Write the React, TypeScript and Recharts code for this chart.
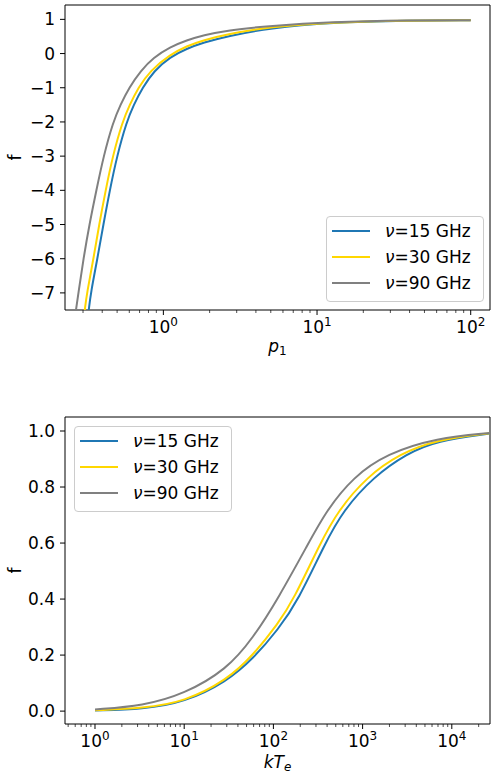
import React from "react";
import { LineChart, Line, XAxis, YAxis, ReferenceArea, Legend } from "recharts";

// top panel: f vs p1 (log x)
const topP15 = [0.327, 0.337, 0.372, 0.407, 0.448, 0.499, 0.576, 0.641, 0.731, 0.871, 1.105, 1.42, 1.82, 2.586, 4.94, 12.15, 40.3, 100];
const topF15 = [-7.5, -7, -6, -5, -4, -3, -2, -1.5, -1, -0.5, -0.1, 0.146, 0.32, 0.506, 0.75, 0.91, 0.968, 0.973];
const topP30 = [0.308, 0.318, 0.351, 0.382, 0.421, 0.468, 0.541, 0.603, 0.686, 0.82, 1.105, 1.42, 1.82, 2.586, 4.94, 12.15, 40.3, 100];
const topF30 = [-7.5, -7, -6, -5, -4, -3, -2, -1.5, -1, -0.5, -0.03, 0.22, 0.39, 0.565, 0.78, 0.915, 0.97, 0.974];
const topP90 = [0.27, 0.28, 0.302, 0.33, 0.3665, 0.408, 0.471, 0.525, 0.598, 0.713, 0.861, 1.105, 1.42, 1.82, 2.586, 4.94, 12.15, 40.3, 100];
const topF90 = [-7.5, -7, -6, -5, -4, -3, -2, -1.5, -1, -0.5, -0.12, 0.19, 0.39, 0.535, 0.68, 0.81, 0.925, 0.972, 0.975];

// bottom panel: f vs kTe (log x)
const botT15 = [1, 3.48, 10, 29.9, 59.5, 113, 190, 378, 608, 1321, 3120, 6760, 26800];
const botF15 = [0.002, 0.007, 0.031, 0.105, 0.188, 0.291, 0.396, 0.598, 0.717, 0.836, 0.919, 0.965, 0.991];
const botT30 = [1, 3.48, 10, 29.9, 59.5, 113, 167, 333, 534, 1112, 2626, 6760, 26800];
const botF30 = [0.003, 0.01, 0.033, 0.11, 0.2, 0.313, 0.396, 0.598, 0.717, 0.836, 0.919, 0.969, 0.992];
const botT90 = [1, 3.48, 10, 29.9, 59.5, 113, 246, 395, 787, 1862, 6760, 26800];
const botF90 = [0.006, 0.019, 0.061, 0.148, 0.262, 0.402, 0.598, 0.717, 0.836, 0.919, 0.975, 0.993];

const freqs = ["15", "30", "90"];
const colors = ["#1f77b4", "#ffd700", "#808080"];

const topXTicks = [0.3, 0.4, 0.5, 0.6, 0.7, 0.8, 0.9, 1, 2, 3, 4, 5, 6, 7, 8, 9, 10, 20, 30, 40, 50, 60, 70, 80, 90, 100];
const topYTicks = [-7, -6, -5, -4, -3, -2, -1, 0, 1];
const botXTicks = [0.5, 0.6, 0.7, 0.8, 0.9, 1, 2, 3, 4, 5, 6, 7, 8, 9, 10, 20, 30, 40, 50, 60, 70, 80, 90, 100, 200, 300, 400, 500, 600, 700, 800, 900, 1000, 2000, 3000, 4000, 5000, 6000, 7000, 8000, 9000, 10000, 20000];
const botYTicks = [0, 0.2, 0.4, 0.6, 0.8, 1.0];

const topXDomain: [number, number] = [0.229, 133.5];
const topYDomain: [number, number] = [-7.5, 1.42];
const botXDomain: [number, number] = [0.461, 26800];
const botYDomain: [number, number] = [-0.046, 1.05];

const zip = (xs: number[], ys: number[]) => xs.map((x, i) => ({ x, f: ys[i] }));

const topSeries = [zip(topP15, topF15), zip(topP30, topF30), zip(topP90, topF90)];
const botSeries = [zip(botT15, botF15), zip(botT30, botF30), zip(botT90, botF90)];

const FONT = 17;

function LogTick(props: any) {
  const { x, y, payload } = props;
  const lg = Math.log10(payload.value);
  const e = Math.round(lg);
  const major = Math.abs(lg - e) < 1e-6;
  return (
    <g>
      <line x1={x} x2={x} y1={y} y2={y + (major ? 5 : 3)} stroke="#000" strokeWidth={major ? 1 : 0.7} />
      {major && (
        <text x={x} y={y + 23} textAnchor="middle" fontSize={FONT} fill="#000">
          10
          <tspan dy={-7} fontSize={12}>
            {e}
          </tspan>
        </text>
      )}
    </g>
  );
}

function yLabel(props: any) {
  const vb = props.viewBox || {};
  const cx = vb.x + 21;
  const cy = vb.y + vb.height / 2;
  return (
    <text x={cx} y={cy} transform={`rotate(-90 ${cx} ${cy})`} textAnchor="middle" fontSize={FONT} fill="#000">
      f
    </text>
  );
}

function xLabelP(props: any) {
  const vb = props.viewBox || {};
  return (
    <text x={vb.x + vb.width / 2} y={vb.y + 42} textAnchor="middle" fontSize={FONT} fill="#000">
      <tspan fontStyle="italic">p</tspan>
      <tspan fontSize={12} dy={3}>1</tspan>
    </text>
  );
}

function xLabelKT(props: any) {
  const vb = props.viewBox || {};
  return (
    <text x={vb.x + vb.width / 2} y={vb.y + 44} textAnchor="middle" fontSize={FONT} fill="#000">
      <tspan fontStyle="italic">kT</tspan>
      <tspan fontStyle="italic" fontSize={12} dy={3}>e</tspan>
    </text>
  );
}

function renderLegend(props: any) {
  const items = props.payload || [];
  return (
    <div
      style={{
        boxSizing: "border-box",
        width: 158,
        height: 86,
        border: "1px solid #cccccc",
        borderRadius: 4,
        background: "rgba(255,255,255,0.8)",
        paddingTop: 1,
        fontFamily: '"DejaVu Sans", sans-serif',
      }}
    >
      {items.map((it: any) => (
        <div key={it.value} style={{ display: "flex", alignItems: "center", height: 26 }}>
          <svg width={38} height={4} style={{ marginLeft: 5, display: "block" }}>
            <line x1={0} x2={38} y1={2} y2={2} stroke={it.color} strokeWidth={2} />
          </svg>
          <span style={{ marginLeft: 15, fontSize: FONT, lineHeight: "26px", color: "#000", whiteSpace: "nowrap" }}>
            <i>ν</i>
            {String(it.value).slice(1)}
          </span>
        </div>
      ))}
    </div>
  );
}

const minus = (v: number) => String(v).replace("-", "\u2212");

export default function App() {
  return (
    <div
      style={{
        position: "absolute",
        left: 0,
        top: 0,
        width: 491,
        height: 774,
        background: "#fff",
        fontFamily: '"DejaVu Sans", sans-serif',
      }}
    >
      <div style={{ position: "absolute", left: 0, top: 0 }}>
        <LineChart width={491} height={370} margin={{ top: 5, right: 1, bottom: 0, left: 0 }}>
          <XAxis
            dataKey="x"
            type="number"
            scale="log"
            domain={topXDomain}
            allowDataOverflow
            ticks={topXTicks}
            interval={0}
            tickSize={0}
            tickMargin={0}
            tick={<LogTick />}
            axisLine={false}
            height={60}
            label={xLabelP}
          />
          <YAxis
            type="number"
            domain={topYDomain}
            allowDataOverflow
            ticks={topYTicks}
            interval={0}
            width={65}
            tickSize={5}
            tickMargin={5}
            stroke="#000"
            axisLine={false}
            tick={{ fill: "#000", fontSize: FONT }}
            tickFormatter={minus}
            label={yLabel}
          />
          <ReferenceArea
            x1={topXDomain[0]}
            x2={topXDomain[1]}
            y1={topYDomain[0]}
            y2={topYDomain[1]}
            fill="none"
            stroke="#000"
            strokeWidth={1}
          />
          {topSeries.map((d, i) => (
            <Line
              key={freqs[i]}
              data={d}
              dataKey="f"
              type="basis"
              stroke={colors[i]}
              strokeWidth={2}
              dot={false}
              activeDot={false}
              name={`ν=${freqs[i]} GHz`}
              isAnimationActive={false}
            />
          ))}
          <Legend
            layout="vertical"
            align="center"
            verticalAlign="middle"
            content={renderLegend}
            wrapperStyle={{ left: 326, top: 216, width: 158, height: 86 }}
          />
        </LineChart>
      </div>

      <div style={{ position: "absolute", left: 0, top: 390 }}>
        <LineChart width={491} height={384} margin={{ top: 27, right: 1, bottom: 0, left: 0 }}>
          <XAxis
            dataKey="x"
            type="number"
            scale="log"
            domain={botXDomain}
            allowDataOverflow
            ticks={botXTicks}
            interval={0}
            tickSize={0}
            tickMargin={0}
            tick={<LogTick />}
            axisLine={false}
            height={50}
            label={xLabelKT}
          />
          <YAxis
            type="number"
            domain={botYDomain}
            allowDataOverflow
            ticks={botYTicks}
            interval={0}
            width={65}
            tickSize={5}
            tickMargin={5}
            stroke="#000"
            axisLine={false}
            tick={{ fill: "#000", fontSize: FONT }}
            tickFormatter={(v: number) => v.toFixed(1)}
            label={yLabel}
          />
          <ReferenceArea
            x1={botXDomain[0]}
            x2={botXDomain[1]}
            y1={botYDomain[0]}
            y2={botYDomain[1]}
            fill="none"
            stroke="#000"
            strokeWidth={1}
          />
          {botSeries.map((d, i) => (
            <Line
              key={freqs[i]}
              data={d}
              dataKey="f"
              type="basis"
              stroke={colors[i]}
              strokeWidth={2}
              dot={false}
              activeDot={false}
              name={`ν=${freqs[i]} GHz`}
              isAnimationActive={false}
            />
          ))}
          <Legend
            layout="vertical"
            align="center"
            verticalAlign="middle"
            content={renderLegend}
            wrapperStyle={{ left: 74, top: 36, width: 158, height: 86 }}
          />
        </LineChart>
      </div>
    </div>
  );
}
